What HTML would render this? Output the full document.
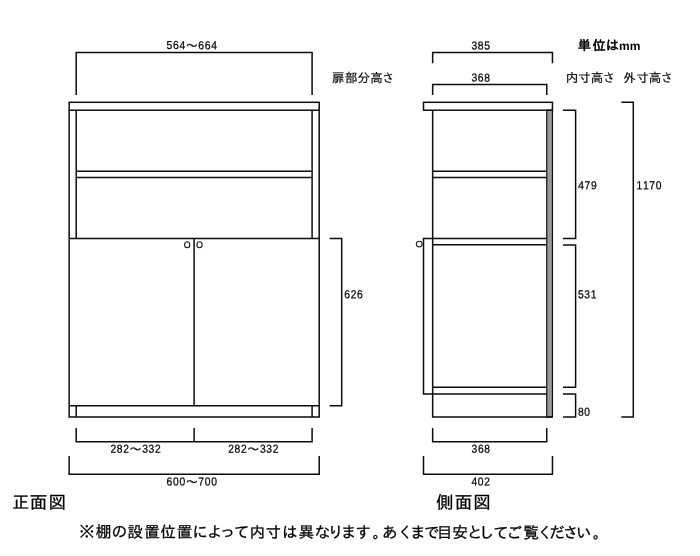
<!DOCTYPE html>
<html lang="ja">
<head>
<meta charset="utf-8">
<title>寸法図</title>
<style>
html,body{margin:0;padding:0;background:#fff;}
body{width:700px;height:556px;overflow:hidden;}
svg{display:block;will-change:transform;}
.g polyline,.g rect,.g line{fill:none;stroke:#0d0d0d;stroke-width:1.5;stroke-linecap:butt;stroke-linejoin:miter;}
.g .k{fill:#fff;stroke:#1a1a1a;stroke-width:1.1;}
text{fill:#000;stroke:#000;stroke-width:0.25px;stroke-linejoin:round;}
.n{font-family:"Liberation Sans","Noto Sans CJK JP",sans-serif;font-size:11.6px;}
.w{font-family:"IPAGothic","Noto Sans CJK JP",sans-serif;font-size:13.6px;stroke-width:0.35px;}
.j{font-family:"IPAGothic","Noto Sans CJK JP",sans-serif;font-size:12.6px;stroke-width:0.15px;}
.u{font-family:"IPAGothic","Noto Sans CJK JP",sans-serif;font-size:13.3px;stroke-width:0.55px;}
.mm{font-family:"Liberation Sans",sans-serif;font-size:12px;font-weight:bold;stroke-width:0;}
.t{font-family:"IPAGothic","Noto Sans CJK JP",sans-serif;font-size:17.5px;stroke-width:0.3px;}
.f{font-family:"IPAGothic","Noto Sans CJK JP",sans-serif;font-size:15.7px;stroke-width:0.28px;}
</style>
</head>
<body>
<svg width="700" height="556" viewBox="0 0 700 556">
<rect width="700" height="556" fill="#fff"/>
<g class="g">
<polyline points="76.2,95 76.2,52.55 312.1,52.55 312.1,95"/>
<rect x="69.15" y="102.3" width="250.05" height="7.9"/>
<polyline points="69.15,110.2 69.15,417.1 319.2,417.1 319.2,110.2"/>
<polyline points="76.2,110.2 76.2,238.4"/>
<polyline points="312.1,110.2 312.1,238.4"/>
<polyline points="76.2,171.2 312.1,171.2"/>
<polyline points="76.2,177.6 312.1,177.6"/>
<polyline points="69.15,238.4 319.2,238.4"/>
<polyline points="194.1,238.4 194.1,405.75"/>
<polyline points="69.15,405.75 319.2,405.75"/>
<polyline points="76.2,405.75 76.2,417.1"/>
<polyline points="312.1,405.75 312.1,417.1"/>
<ellipse class="k" cx="187.2" cy="244.7" rx="2.6" ry="3"/>
<ellipse class="k" cx="199.5" cy="244.7" rx="2.6" ry="3"/>
<polyline points="329.7,238.4 341.7,238.4 341.7,405.75 329.7,405.75"/>
<polyline points="76.2,427.9 76.2,441.8 312.1,441.8 312.1,427.9"/>
<polyline points="194.1,427.9 194.1,441.8"/>
<polyline points="69.15,456 69.15,474.15 319.2,474.15 319.2,456"/>
<polyline points="432.65,63.3 432.65,52.55 552.45,52.55 552.45,63.3"/>
<polyline points="432.65,95 432.65,84.4 546.75,84.4 546.75,95"/>
<rect x="546.75" y="110.2" width="5.7" height="306.9" style="fill:#999;stroke-width:1.2"/>
<rect x="423.5" y="102.3" width="128.95" height="7.9"/>
<polyline points="432.65,110.2 432.65,417.1 552.45,417.1"/>
<polyline points="432.65,171.2 546.75,171.2"/>
<polyline points="432.65,177.6 546.75,177.6"/>
<polyline points="546.75,238.4 423.5,238.4 423.5,393.9 546.75,393.9"/>
<polyline points="432.65,244.8 546.75,244.8"/>
<polyline points="432.65,387.2 546.75,387.2"/>
<circle class="k" cx="419.2" cy="244.1" r="2.9"/>
<polyline points="563,110.2 575.6,110.2 575.6,238.4 563,238.4"/>
<polyline points="563,245 575.6,245 575.6,387.2 563,387.2"/>
<polyline points="563,393.9 575.6,393.9 575.6,417.1 563,417.1"/>
<polyline points="621.3,102.3 633.3,102.3 633.3,417.1 621.3,417.1"/>
<polyline points="432.65,427.9 432.65,441.8 546.75,441.8 546.75,427.9"/>
<polyline points="423.5,456 423.5,474.15 552.45,474.15 552.45,456"/>
</g>
<g>
<text class="n" transform="translate(166.7,49.1) matrix(0.89,0.002,0,1,0,0)" text-anchor="middle" x="3.10 10.31 17.53" y="0">564<tspan class="w" x="28.16" dy="1.3">～</tspan><tspan x="38.79 46.00 53.21" dy="-1.3">664</tspan></text>
<text class="n" transform="translate(471.5,49.5) matrix(0.89,0.002,0,1,0,0)" text-anchor="middle" x="3.10 10.31 17.53" y="0">385</text>
<text class="n" transform="translate(471.5,81.6) matrix(0.89,0.002,0,1,0,0)" text-anchor="middle" x="3.10 10.31 17.53" y="0">368</text>
<text class="n" transform="translate(344.4,298.3) matrix(0.89,0.002,0,1,0,0)" text-anchor="middle" x="3.10 10.31 17.53" y="0">626</text>
<text class="n" transform="translate(578.3,189.3) matrix(0.89,0.002,0,1,0,0)" text-anchor="middle" x="3.10 10.31 17.53" y="0">479</text>
<text class="n" transform="translate(636.6,189.3) matrix(0.89,0.002,0,1,0,0)" text-anchor="middle" x="3.10 10.31 17.53 24.74" y="0">1170</text>
<text class="n" transform="translate(578,298.2) matrix(0.89,0.002,0,1,0,0)" text-anchor="middle" x="3.10 10.31 17.53" y="0">531</text>
<text class="n" transform="translate(578,415.7) matrix(0.89,0.002,0,1,0,0)" text-anchor="middle" x="3.10 10.31" y="0">80</text>
<text class="n" transform="translate(110.5,452.7) matrix(0.89,0.002,0,1,0,0)" text-anchor="middle" x="3.10 10.31 17.53" y="0">282<tspan class="w" x="28.16" dy="1.3">～</tspan><tspan x="38.79 46.00 53.21" dy="-1.3">332</tspan></text>
<text class="n" transform="translate(228.3,452.7) matrix(0.89,0.002,0,1,0,0)" text-anchor="middle" x="3.10 10.31 17.53" y="0">282<tspan class="w" x="28.16" dy="1.3">～</tspan><tspan x="38.79 46.00 53.21" dy="-1.3">332</tspan></text>
<text class="n" transform="translate(166.7,485.4) matrix(0.89,0.002,0,1,0,0)" text-anchor="middle" x="3.10 10.31 17.53" y="0">600<tspan class="w" x="28.16" dy="1.3">～</tspan><tspan x="38.79 46.00 53.21" dy="-1.3">700</tspan></text>
<text class="n" transform="translate(471.6,452.8) matrix(0.89,0.002,0,1,0,0)" text-anchor="middle" x="3.10 10.31 17.53" y="0">368</text>
<text class="n" transform="translate(471.5,485.4) matrix(0.89,0.002,0,1,0,0)" text-anchor="middle" x="3.10 10.31 17.53" y="0">402</text>
<text class="j" transform="translate(331.8,82.3) matrix(1,0.002,0,1,0,0)" x="0.04 13.32 25.80 38.34 50.29" y="0">扉部分高さ</text>
<text class="j" transform="translate(565.7,82.3) matrix(1,0.002,0,1,0,0)" x="-0.01 12.59 25.09 37.14" y="0">内寸高さ</text>
<text class="j" transform="translate(623.4,82.3) matrix(1,0.002,0,1,0,0)" x="-0.07 12.79 25.29 37.44" y="0">外寸高さ</text>
<text class="u" transform="translate(577.9,50) matrix(1,0.002,0,1,0,0)" x="-0.04 14.50 27.95" y="0">単位は<tspan class="mm" x="41.10">mm</tspan></text>
<text class="t" transform="translate(12.1,508.4) matrix(1,0.002,0,1,0,0)" x="0.00 17.75 36.30" y="0">正面図</text>
<text class="t" transform="translate(435.6,508.4) matrix(1,0.002,0,1,0,0)" x="0.44 19.15 37.65" y="0">側面図</text>
<text class="f" transform="translate(78.9,537.3) matrix(1,0.002,0,1,0,0)" x="-0.03 16.97 32.72 48.66 65.41 81.35 97.91 113.29 128.04 140.97 155.16 170.54 186.49 203.16 219.54 235.60 248.97 261.91 276.54 293.54 303.04 318.54 331.16 345.02 357.89 373.48 388.09 399.73 414.41 427.29 444.48 458.29 470.35 483.79 497.04 513.79" y="0">※棚の設置位置によって内寸は異なります。あくまで目安としてご覧ください。</text>
</g>
</svg>
</body>
</html>
